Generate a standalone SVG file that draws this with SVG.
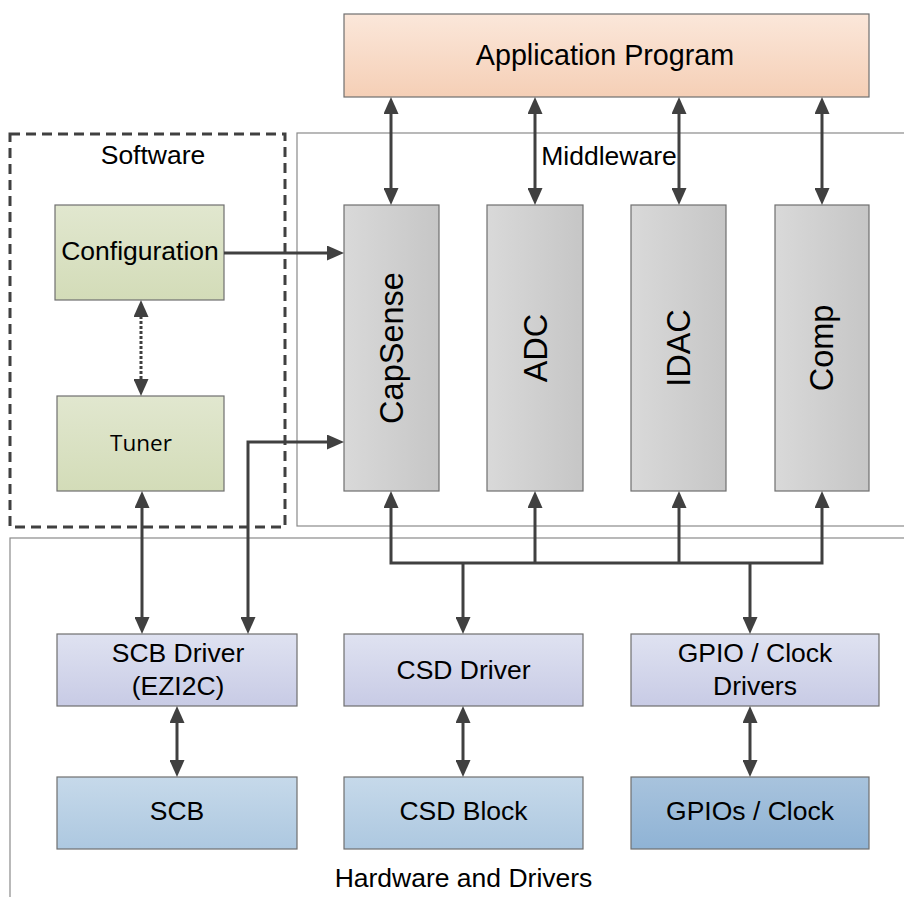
<svg xmlns="http://www.w3.org/2000/svg" width="904" height="897" viewBox="0 0 904 897">
<defs>
<linearGradient id="gApp" x1="0" y1="0" x2="0" y2="1"><stop offset="0" stop-color="#fbe7da"/><stop offset="1" stop-color="#f5cfb6"/></linearGradient>
<linearGradient id="gSw" x1="0" y1="0" x2="0" y2="1"><stop offset="0" stop-color="#e1e7cf"/><stop offset="1" stop-color="#d3dcb8"/></linearGradient>
<linearGradient id="gMw" x1="0" y1="0" x2="1" y2="0"><stop offset="0" stop-color="#d9d9d9"/><stop offset="1" stop-color="#c6c6c6"/></linearGradient>
<linearGradient id="gDrv" x1="0" y1="0" x2="0" y2="1"><stop offset="0" stop-color="#dfe2f1"/><stop offset="1" stop-color="#c8cbe5"/></linearGradient>
<linearGradient id="gHw" x1="0" y1="0" x2="0" y2="1"><stop offset="0" stop-color="#c6d9ea"/><stop offset="1" stop-color="#adc8e0"/></linearGradient>
<linearGradient id="gGp" x1="0" y1="0" x2="0" y2="1"><stop offset="0" stop-color="#a8c3dd"/><stop offset="1" stop-color="#8fb3d5"/></linearGradient>
<marker id="ah" viewBox="0 0 17 15" refX="11" refY="7.5" markerWidth="17" markerHeight="15" markerUnits="userSpaceOnUse" orient="auto-start-reverse"><path d="M0,0 L17,7.5 L0,15 z" fill="#404040"/></marker>
</defs>
<style>
text{font-family:"Liberation Sans",Arial,sans-serif;fill:#000;text-anchor:middle}
.box{stroke:#6f6f6f;stroke-width:1.2}
.frame{fill:none;stroke:#8a8a8a;stroke-width:1.2}
.c{fill:none;stroke:#404040;stroke-width:3}
.ab{marker-start:url(#ah);marker-end:url(#ah)}
.ae{marker-end:url(#ah)}
.as{marker-start:url(#ah)}
.t22{font-size:26.5px}
.v{font-size:32.5px}
</style>
<rect width="904" height="897" fill="#fff"/>

<g id="middleware">
<rect class="frame" x="297" y="133" width="620" height="393"/>
<text class="t22" x="609" y="165">Middleware</text>
</g>
<g id="hardware">
<rect class="frame" x="10" y="538" width="905" height="370"/>
<text class="t22" x="463.5" y="887">Hardware and Drivers</text>
</g>
<g id="software">
<rect x="10" y="134" width="275" height="393" fill="none" stroke="#404040" stroke-width="3" stroke-dasharray="10,6"/>
<text class="t22" x="153" y="164">Software</text>
</g>

<g id="app">
<rect class="box" x="344" y="14" width="525" height="83" fill="url(#gApp)" stroke="#8b7a70"/>
<text x="605" y="65" style="font-size:28.7px">Application Program</text>
</g>
<g id="configuration">
<rect class="box" x="55" y="205" width="169" height="95" fill="url(#gSw)"/>
<text class="t22" x="140" y="260">Configuration</text>
</g>
<g id="tuner">
<rect class="box" x="57" y="396" width="167" height="95" fill="url(#gSw)"/>
<text x="141" y="451" style="font-size:22.5px;font-family:'Open Sans','Liberation Sans',sans-serif">Tuner</text>
</g>
<g id="capsense">
<rect class="box" x="344" y="205" width="95" height="286" fill="url(#gMw)"/>
<text class="v" transform="translate(403,348) rotate(-90)">CapSense</text>
</g>
<g id="adc">
<rect class="box" x="487" y="205" width="96" height="286" fill="url(#gMw)"/>
<text class="v" transform="translate(547,348) rotate(-90)">ADC</text>
</g>
<g id="idac">
<rect class="box" x="631" y="205" width="95" height="286" fill="url(#gMw)"/>
<text class="v" transform="translate(690,348) rotate(-90)">IDAC</text>
</g>
<g id="comp">
<rect class="box" x="775" y="205" width="94" height="286" fill="url(#gMw)"/>
<text class="v" transform="translate(833,348) rotate(-90)">Comp</text>
</g>
<g id="scbdriver">
<rect class="box" x="57" y="634" width="240" height="72" fill="url(#gDrv)"/>
<text class="t22" x="178" y="662">SCB Driver</text>
<text class="t22" x="178" y="695">(EZI2C)</text>
</g>
<g id="csddriver">
<rect class="box" x="344" y="634" width="239" height="72" fill="url(#gDrv)"/>
<text class="t22" x="463.5" y="679">CSD Driver</text>
</g>
<g id="gpiodriver">
<rect class="box" x="631" y="634" width="248" height="72" fill="url(#gDrv)"/>
<text class="t22" x="755" y="662">GPIO / Clock</text>
<text class="t22" x="755" y="695">Drivers</text>
</g>
<g id="scb">
<rect class="box" x="57" y="777" width="240" height="72" fill="url(#gHw)"/>
<text class="t22" x="177" y="820">SCB</text>
</g>
<g id="csdblock">
<rect class="box" x="344" y="777" width="239" height="72" fill="url(#gHw)"/>
<text class="t22" x="463.5" y="820">CSD Block</text>
</g>
<g id="gpios">
<rect class="box" x="631" y="777" width="238" height="72" fill="url(#gGp)"/>
<text class="t22" x="750" y="820">GPIOs / Clock</text>
</g>

<g id="connectors">
<path class="c ab" d="M391,103 V199"/>
<path class="c ab" d="M535,103 V199"/>
<path class="c ab" d="M679,103 V199"/>
<path class="c ab" d="M822,103 V199"/>
<path class="c ae" d="M224,253 H338"/>
<path class="c ab" d="M338,442 H248 V628"/>
<path class="c ab" d="M141,306 V390" stroke-dasharray="3,2"/>
<path class="c ab" d="M142,497 V628"/>
<path class="c ab" d="M391,497 V563 H822 V497"/>
<path class="c as" d="M535,497 V563"/>
<path class="c as" d="M679,497 V563"/>
<path class="c ae" d="M463,563 V628"/>
<path class="c ae" d="M750,563 V628"/>
<path class="c ab" d="M177,712 V771"/>
<path class="c ab" d="M463,712 V771"/>
<path class="c ab" d="M750,712 V771"/>
</g>
</svg>
